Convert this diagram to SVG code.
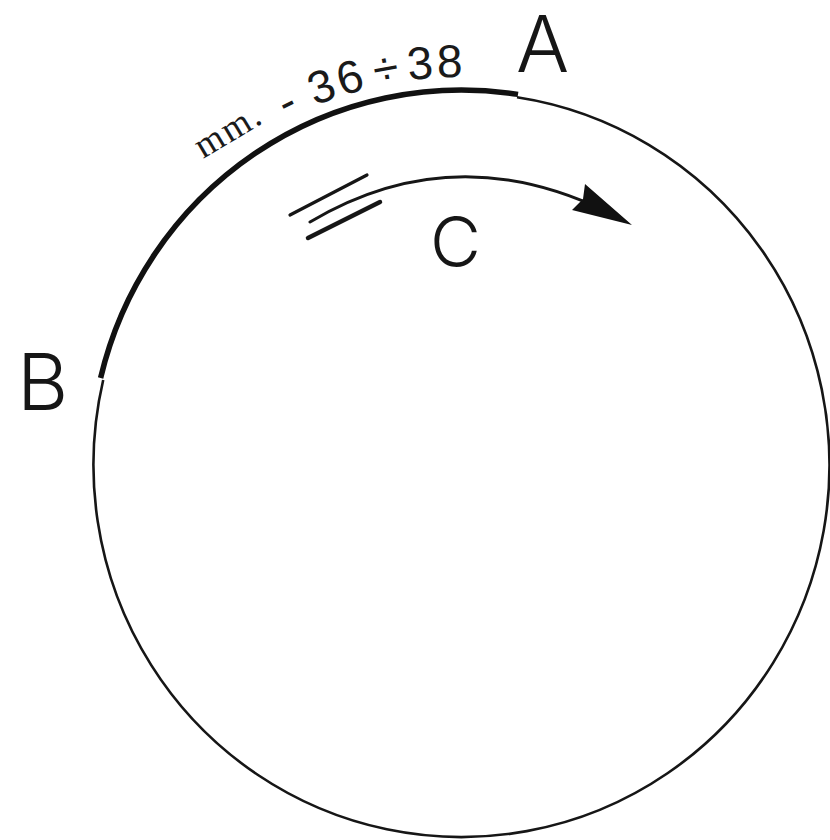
<svg xmlns="http://www.w3.org/2000/svg" width="830" height="840" viewBox="0 0 830 840">
  <style>
    .thin { fill: none; stroke: #161616; stroke-width: 2.6; }
    .thick { fill: none; stroke: #111; stroke-width: 5.5; stroke-linecap: butt; }
    .mark { fill: none; stroke: #161616; stroke-linecap: round; }
    .letter { font-family: "Inter", "Liberation Sans", sans-serif; font-weight: 300; fill: #161616; }
    .dim { font-family: "Liberation Sans", "DejaVu Sans", sans-serif; fill: #1a1a1a; }
    .unit { font-family: "Liberation Serif", "DejaVu Serif", serif; fill: #1a1a1a; }
  </style>
  <defs>
    <path id="dimpath" d="M275,125.3 A386,388 0 0 1 560,89.8"/>
  </defs>
  <rect x="0" y="0" width="830" height="840" fill="#ffffff"/>

  <g id="circle">
    <path class="thin" d="M103.2,380 A368,372 0 1 0 517,97.3"/>
  </g>

  <g id="arc-AB">
    <path class="thick" d="M100.6,378 A371,375 0 0 1 518,94.4"/>
  </g>

  <g id="label-dim">
    <text class="unit" font-size="37" letter-spacing="2" transform="translate(203,159) rotate(-31)">mm.</text>
    <text class="dim" font-size="46" letter-spacing="3"><textPath href="#dimpath" startOffset="13">-<tspan dx="13">36</tspan><tspan dx="7">÷</tspan><tspan dx="5">38</tspan></textPath></text>
  </g>

  <g id="label-A">
    <text class="letter" x="516" y="72" font-size="79">A</text>
  </g>
  <g id="label-B">
    <text class="letter" x="17" y="410" font-size="79">B</text>
  </g>
  <g id="label-C">
    <text class="letter" x="430" y="267" font-size="70">C</text>
  </g>

  <g id="connectors">
    <path class="mark" stroke-width="3" d="M310,222 Q452.6,137.4 605.3,211"/>
    <polygon fill="#111" points="632,225 585,184 583,199 572,210"/>
    <line class="mark" stroke-width="3.2" x1="290" y1="215" x2="367" y2="175"/>
    <line class="mark" stroke-width="4.5" x1="308" y1="238" x2="380" y2="202"/>
  </g>
</svg>
